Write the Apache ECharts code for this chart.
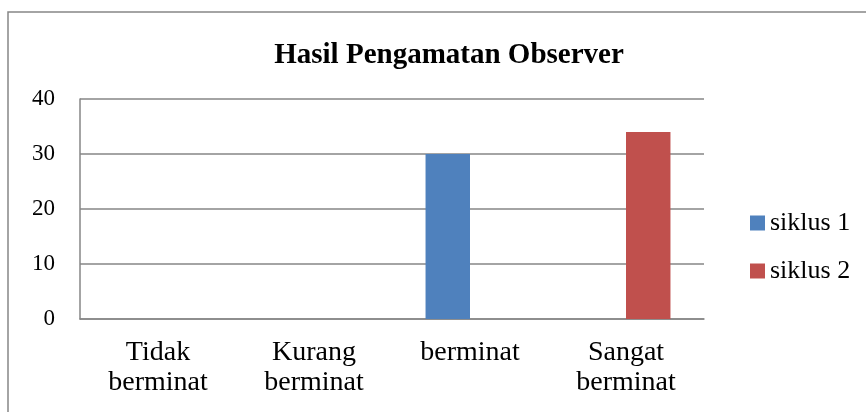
<!DOCTYPE html>
<html>
<head>
<meta charset="utf-8">
<script src="https://cdn.jsdelivr.net/npm/echarts@6/dist/echarts.min.js"></script>
<style>html,body{margin:0;padding:0;background:#fff}#c{width:866px;height:412px}</style>
</head>
<body>
<div id="c"></div>
<script>
const categories = ['Tidak\nberminat', 'Kurang\nberminat', 'berminat', 'Sangat\nberminat'];
const siklus1 = [0, 0, 30, 0];
const siklus2 = [0, 0, 0, 34];
const seriesNames = ['siklus 1', 'siklus 2'];
const yTicks = { min: 0, max: 40, interval: 10 };

const chart = echarts.init(document.getElementById('c'), null, { renderer: 'canvas' });
const font = '"Liberation Serif", "DejaVu Serif", serif';
chart.setOption({
  animation: false,
  backgroundColor: '#fff',
  graphic: [{
    type: 'rect', silent: true, z: -1,
    shape: { x: 8, y: 12, width: 900, height: 500 },
    style: { fill: 'none', stroke: '#868686', lineWidth: 1.5 }
  }],
  title: {
    text: 'Hasil Pengamatan Observer',
    left: 444, top: 36, textAlign: 'center',
    textStyle: { fontFamily: font, fontSize: 29, fontWeight: 'bold', color: '#000' }
  },
  legend: {
    orient: 'vertical', left: 745, top: 205,
    itemWidth: 15, itemHeight: 15, itemGap: 22,
    icon: 'rect',
    textStyle: { fontFamily: font, fontSize: 26, color: '#000' },
    data: seriesNames
  },
  grid: { left: 80, right: 162, top: 99, bottom: 93, containLabel: false },
  xAxis: {
    type: 'category', data: categories,
    axisLine: { lineStyle: { color: '#868686', width: 1.5 } },
    axisTick: { show: false },
    axisLabel: { fontFamily: font, fontSize: 28, color: '#000', lineHeight: 30, margin: 19, interval: 0 }
  },
  yAxis: {
    type: 'value', min: yTicks.min, max: yTicks.max, interval: yTicks.interval,
    axisLine: { show: true, lineStyle: { color: '#868686', width: 1.5 } },
    axisTick: { show: false },
    splitLine: { lineStyle: { color: '#868686', width: 1.5 } },
    axisLabel: { fontFamily: font, fontSize: 23, color: '#000', margin: 25 }
  },
  series: [
    { name: seriesNames[0], type: 'bar', data: siklus1, barGap: '0%', barCategoryGap: '43%', itemStyle: { color: '#4F81BD' } },
    { name: seriesNames[1], type: 'bar', data: siklus2, barGap: '0%', barCategoryGap: '43%', itemStyle: { color: '#C0504D' } }
  ]
});
</script>
</body>
</html>
